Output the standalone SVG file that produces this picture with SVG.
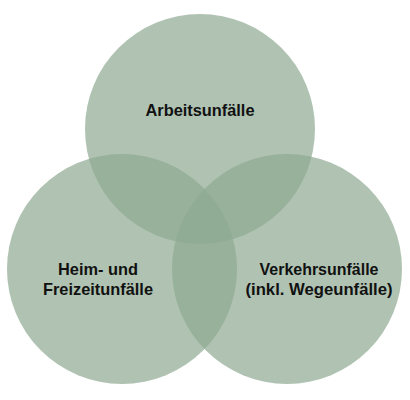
<svg xmlns="http://www.w3.org/2000/svg" width="410" height="400" viewBox="0 0 410 400">
<style>
.c{fill:#8ea991;fill-opacity:0.7}
.t{font-family:"Liberation Sans",Arial,sans-serif;font-weight:bold;font-size:17px;fill:#111;text-anchor:middle}
</style>
<rect width="410" height="400" fill="#fff"/>
<g id="arbeit"><circle class="c" cx="200" cy="129" r="115"/><text class="t" x="200" y="116" textLength="109" lengthAdjust="spacingAndGlyphs">Arbeitsunfälle</text></g>
<g id="heim"><circle class="c" cx="122" cy="269" r="115"/><text class="t" x="98" y="275" textLength="80" lengthAdjust="spacingAndGlyphs">Heim- und</text><text class="t" x="98" y="295" textLength="110" lengthAdjust="spacingAndGlyphs">Freizeitunfälle</text></g>
<g id="verkehr"><circle class="c" cx="287" cy="269" r="115"/><text class="t" x="319" y="275" textLength="119" lengthAdjust="spacingAndGlyphs">Verkehrsunfälle</text><text class="t" x="319" y="295" textLength="147" lengthAdjust="spacingAndGlyphs">(inkl. Wegeunfälle)</text></g>
<g id="connectors"/>
</svg>
